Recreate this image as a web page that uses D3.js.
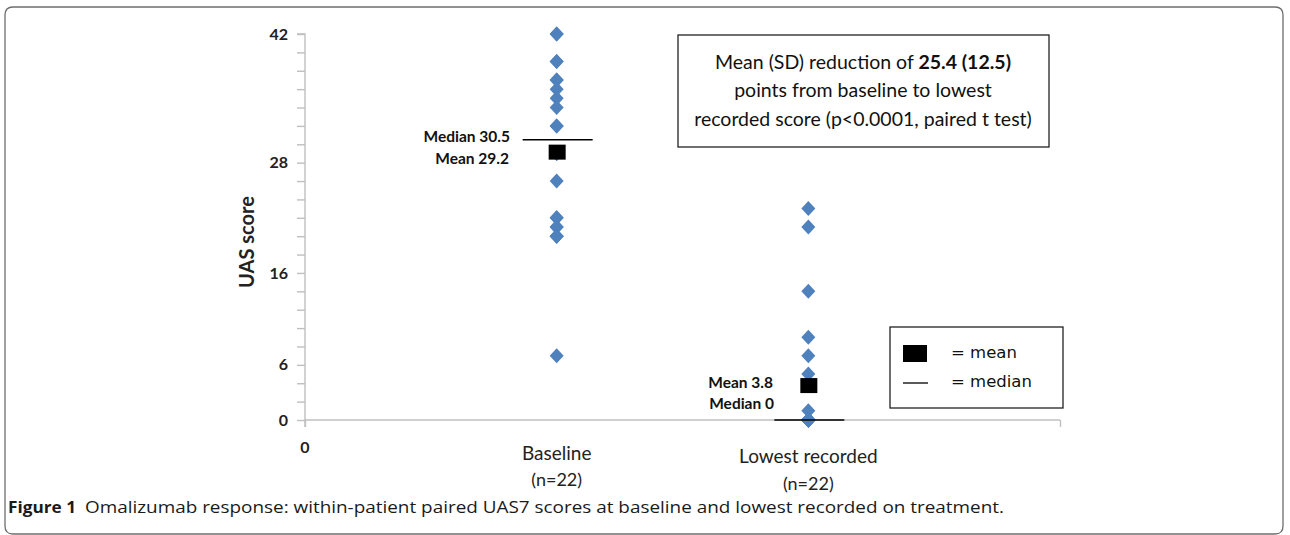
<!DOCTYPE html>
<html><head><meta charset="utf-8">
<script src="https://cdn.jsdelivr.net/npm/d3@7"></script>
<style>body{margin:0;background:#fff}svg{display:block}</style>
</head><body>
<script>
// ---- data ----
const categories = ["Baseline", "Lowest recorded"];
const categorySub = ["(n=22)", "(n=22)"];
const categoryX = [1, 2];
const baselineScores = [42,42,39,39,37,37,36,35,34,32,32,29,29,26,22,22,21,21,20,20,20,7];
const lowestScores = [23,21,14,9,7,5,4,1,0,0,0,0,0,0,0,0,0,0,0,0,0,0];
const means = [29.2, 3.8];
const medians = [30.5, 0];
const meanLabels = ["Mean 29.2", "Mean 3.8"];
const medianLabels = ["Median 30.5", "Median 0"];
const yTickLabels = [0, 6, 16, 28, 42];
const yMinorTicks = d3.range(0, 43, 2);
const xTickValues = [0, 3];
const xTickLabels = ["0"];
const boxLines = [["Mean (SD) reduction of ", "25.4 (12.5)"], ["points from baseline to lowest"], ["recorded score (p<0.0001, paired t test)"]];
const legendLabels = ["= mean", "= median"];
const captionBold = "Figure 1";
const captionText = "Omalizumab response: within-patient paired UAS7 scores at baseline and lowest recorded on treatment.";

const W = 1290, H = 535;
const svg = d3.select("body").append("svg").attr("width", W).attr("height", H);
const font = "Lato, 'Open Sans', sans-serif";

// frame
svg.append("path")
  .attr("d", "M5,526 L5,15 Q5,7 13,7 L1275,7 Q1283,7 1283,15 L1283,526 Q1283,534 1275,534 L13,534 Q5,534 5,526")
  .attr("fill", "none").attr("stroke", "#6d6d6d").attr("stroke-width", 1.3);

const x = d3.scaleLinear().domain([0, 3]).range([305, 1060]);
const y = d3.scaleLinear().domain([0, 42]).range([420, 34]);
const axisColor = "#bfbfbf";

// y axis
const gy = svg.append("g").attr("transform", `translate(${x(0)},0)`)
  .call(d3.axisLeft(y).tickValues(yMinorTicks).tickSize(8).tickFormat(""));
gy.selectAll("path,line").attr("stroke", axisColor).attr("stroke-width", 1.4);
gy.select(".domain").attr("d", `M-8,${y(42)}H0V${y(0)+7}`);
svg.append("g").selectAll("text").data(yTickLabels).join("text")
  .attr("x", 288).attr("y", d => y(d)).attr("dy", "0.35em")
  .attr("text-anchor", "end").attr("font-family", font).attr("font-weight", "bold")
  .attr("font-size", 16).attr("fill", "#222").text(d => d);

// x axis
const gx = svg.append("g").attr("transform", `translate(0,${y(0)})`)
  .call(d3.axisBottom(x).tickValues(xTickValues).tickSize(7).tickFormat(""));
gx.selectAll("path,line").attr("stroke", axisColor).attr("stroke-width", 1.4);
gx.select(".domain").attr("d", `M${x(0)},0H${x(3)}`);
svg.append("g").selectAll("text").data(xTickLabels).join("text")
  .attr("x", x(0)).attr("y", 447).attr("dy", "0.35em")
  .attr("text-anchor", "middle").attr("font-family", font).attr("font-weight", "bold")
  .attr("font-size", 16).attr("fill", "#222").text(d => d);

// y title
svg.append("text").attr("transform", `translate(254,${y(21)+15}) rotate(-90)`)
  .attr("text-anchor", "middle").attr("font-family", font).attr("font-weight", "bold")
  .attr("font-size", 20).attr("fill", "#222").text("UAS score");

// category labels
svg.append("g").selectAll("text").data(categories).join("text")
  .attr("x", (d, i) => x(categoryX[i])).attr("y", (d, i) => i ? 456 : 453).attr("dy", "0.35em")
  .attr("text-anchor", "middle").attr("font-family", font).attr("font-size", 19).attr("fill", "#222").text(d => d);
svg.append("g").selectAll("text").data(categorySub).join("text")
  .attr("x", (d, i) => x(categoryX[i])).attr("y", (d, i) => i ? 484 : 480).attr("dy", "0.35em")
  .attr("text-anchor", "middle").attr("font-family", font).attr("font-size", 18).attr("fill", "#222").text(d => d);

// points
const diamond = "M0,-7.5L7,0L0,7.5L-7,0Z";
const series = [baselineScores, lowestScores];
series.forEach((vals, i) => {
  svg.append("g").selectAll("path").data(vals).join("path")
    .attr("d", diamond).attr("transform", d => `translate(${x(categoryX[i])},${y(d)})`)
    .attr("fill", "#4f81bd");
});

// medians and means
svg.append("g").selectAll("line").data(medians).join("line")
  .attr("x1", (d, i) => x(categoryX[i]) - 34).attr("x2", (d, i) => x(categoryX[i]) + 36)
  .attr("y1", d => y(d)).attr("y2", d => y(d)).attr("stroke", "#000").attr("stroke-width", 1.5);
svg.append("g").selectAll("rect").data(means).join("rect")
  .attr("x", (d, i) => x(categoryX[i]) - 8).attr("y", d => y(d) - 7)
  .attr("width", 17).attr("height", 15).attr("fill", "#000");

// annotations
const anno = [
  [510, 137, medianLabels[0]], [509, 159, meanLabels[0]],
  [773, 383, meanLabels[1]], [774, 404, medianLabels[1]]
];
svg.append("g").selectAll("text").data(anno).join("text")
  .attr("x", d => d[0]).attr("y", d => d[1]).attr("dy", "0.35em").attr("text-anchor", "end")
  .attr("font-family", font).attr("font-weight", "bold").attr("font-size", 15.5).attr("fill", "#111").text(d => d[2]);

// text box
svg.append("rect").attr("x", 678).attr("y", 35).attr("width", 371).attr("height", 112)
  .attr("fill", "#fff").attr("stroke", "#222").attr("stroke-width", 1.3);
const tb = svg.append("g");
boxLines.forEach((parts, i) => {
  const t = tb.append("text").attr("x", 863).attr("y", 62 + i * 28.5).attr("dy", "0.35em")
    .attr("text-anchor", "middle").attr("font-family", font).attr("font-size", 19.5).attr("fill", "#111");
  parts.forEach((p, j) => t.append("tspan").attr("font-weight", j === 1 ? "bold" : "normal").text(p));
});

// legend
svg.append("rect").attr("x", 890).attr("y", 327).attr("width", 173).attr("height", 81)
  .attr("fill", "#fff").attr("stroke", "#222").attr("stroke-width", 1.3);
svg.append("rect").attr("x", 903).attr("y", 345).attr("width", 24).attr("height", 17).attr("fill", "#000");
svg.append("line").attr("x1", 903).attr("x2", 928).attr("y1", 383).attr("y2", 383).attr("stroke", "#000").attr("stroke-width", 1.3);
svg.append("g").selectAll("text").data(legendLabels).join("text")
  .attr("x", 951).attr("y", (d, i) => 352 + i * 29).attr("dy", "0.35em")
  .attr("font-family", "'DejaVu Sans', sans-serif").attr("font-size", 16.5).attr("fill", "#111").text(d => d);

// caption
svg.append("text").attr("x", 8).attr("y", 507).attr("dy", "0.35em")
  .attr("font-family", "'Open Sans', sans-serif").attr("font-weight", "bold").attr("font-size", 16.5)
  .attr("textLength", 68).attr("lengthAdjust", "spacingAndGlyphs").attr("fill", "#1a1a1a").text(captionBold);
svg.append("text").attr("x", 85).attr("y", 507).attr("dy", "0.35em")
  .attr("font-family", "'Open Sans', sans-serif").attr("font-size", 16.5)
  .attr("textLength", 919).attr("lengthAdjust", "spacingAndGlyphs").attr("fill", "#1a1a1a").text(captionText);
</script>
</body></html>
